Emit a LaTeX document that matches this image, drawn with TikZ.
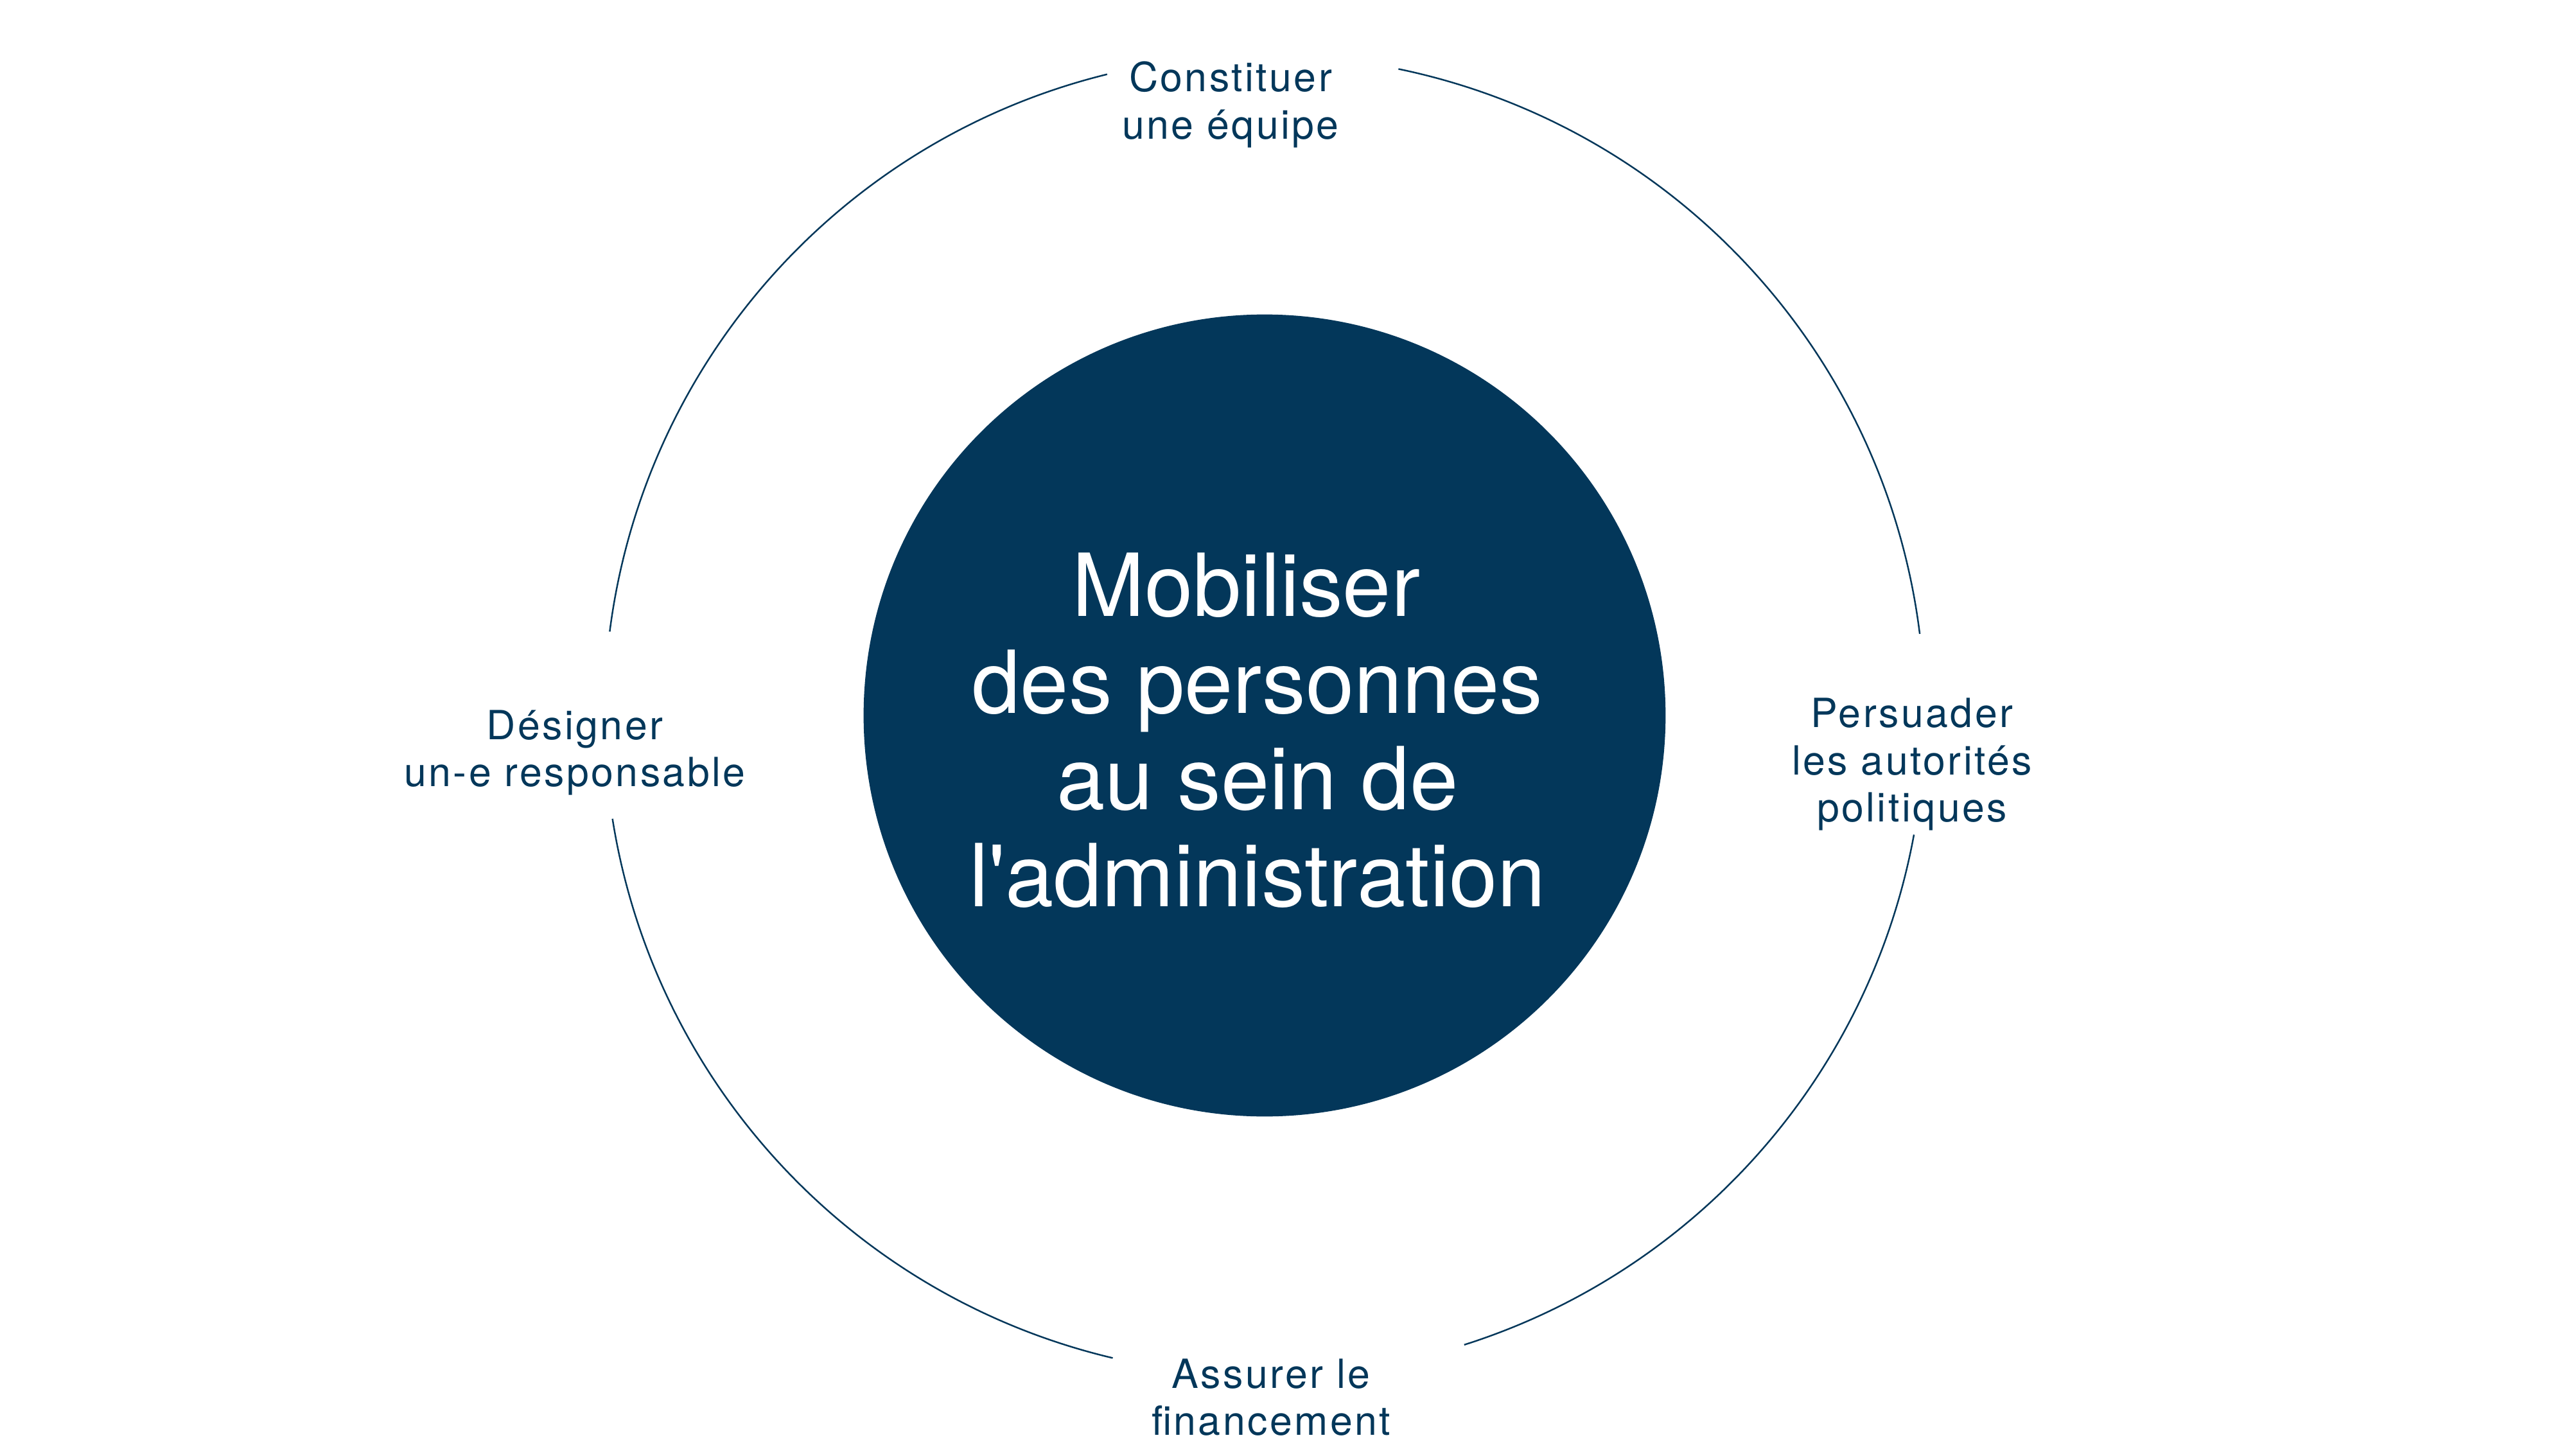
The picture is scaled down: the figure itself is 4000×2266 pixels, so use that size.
\documentclass[tikz,border=0pt]{standalone}
\usepackage{fontspec}
\setmainfont{TeX Gyre Heros}
\newfontfamily\labelfont{TeX Gyre Heros}[LetterSpace=5.5]
\definecolor{navy}{RGB}{3,55,90}
\tikzset{
  ring/.style={draw=navy, line width=0.7pt},
  hubdisc/.style={circle, fill=navy, inner sep=0pt, minimum size=12.48cm},
  hubtext/.style={text=white, align=center, inner sep=0pt, font=\fontsize{38.5}{42.8}\selectfont},
  lbl/.style={text=navy, align=center, inner sep=0pt, font=\labelfont\fontsize{17.8}{20.8}\selectfont}
}
\begin{document}
\begin{tikzpicture}[x=0.01cm,y=0.01cm]
\useasboundingbox (-1969,-1152) rectangle (2031,1114);
\node[hubdisc] (hub) at (0,0) {};
\node[hubtext] (maintext) at (-11,-23) {Mobiliser\hspace*{10pt}\\des personnes\hspace*{10pt}\\au sein de\hspace*{10pt}\\l\textquotesingle administration};
% outer ring arcs
\draw[ring] (hub.center) ++(7.1:1028) arc[start angle=7.1, end angle=78.3, radius=1028];
\draw[ring] (hub.center) ++(103.8:1028) arc[start angle=103.8, end angle=172.7, radius=1028];
\draw[ring] (hub.center) ++(189:1028) arc[start angle=189, end angle=256.7, radius=1028];
\draw[ring] (hub.center) ++(287.6:1028) arc[start angle=287.6, end angle=349.6, radius=1028];
% labels
\node[lbl] (top) at (-53,951) {Constituer\\une équipe};
\node[lbl] (left) at (-1074,-58) {Désigner\\un-e responsable};
\node[lbl] (right) at (1008,-76) {Persuader\\les autorités\\politiques};
\node[lbl] (bottom) at (10,-1062) {Assurer le\\financement};
\end{tikzpicture}
\end{document}
